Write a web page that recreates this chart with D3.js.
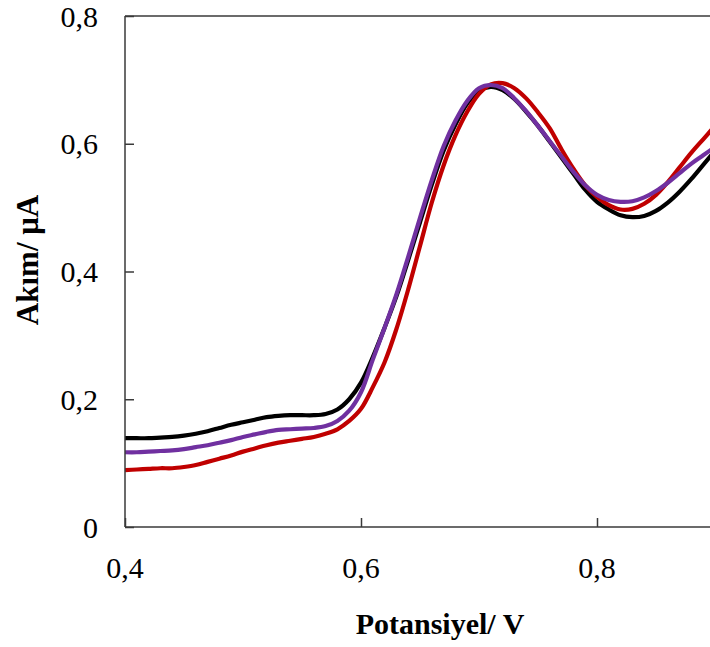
<!DOCTYPE html>
<html>
<head>
<meta charset="utf-8">
<script src="https://cdn.jsdelivr.net/npm/d3@7"></script>
<style>
  html, body { margin: 0; padding: 0; background: #fff; }
  svg { display: block; }
</style>
</head>
<body>
<svg id="chart" width="710" height="647"></svg>
<script>
// Potential (V)
const potentials = [0.40,0.41,0.42,0.43,0.44,0.45,0.46,0.47,0.48,0.49,
  0.50,0.51,0.52,0.53,0.54,0.55,0.56,0.57,0.58,0.59,
  0.60,0.61,0.62,0.63,0.64,0.65,0.66,0.67,0.68,0.69,
  0.70,0.71,0.72,0.73,0.74,0.75,0.76,0.77,0.78,0.79,
  0.80,0.81,0.82,0.83,0.84,0.85,0.86,0.87,0.88,0.89,0.90];

// Current (µA) – black series
const blackSeries = [0.139,0.139,0.139,0.140,0.141,0.143,0.146,0.150,0.155,0.160,
  0.164,0.168,0.172,0.174,0.175,0.175,0.175,0.177,0.184,0.200,
  0.226,0.266,0.312,0.361,0.418,0.477,0.536,0.589,0.630,0.663,
  0.683,0.689,0.684,0.670,0.650,0.628,0.603,0.578,0.553,0.528,
  0.509,0.497,0.488,0.485,0.487,0.495,0.508,0.525,0.545,0.567,0.589];

// Current (µA) – red series
const redSeries = [0.089,0.090,0.091,0.092,0.092,0.094,0.097,0.102,0.107,0.112,
  0.118,0.123,0.128,0.132,0.135,0.138,0.141,0.146,0.153,0.166,
  0.185,0.219,0.258,0.310,0.372,0.440,0.508,0.566,0.613,0.650,
  0.678,0.693,0.695,0.687,0.671,0.649,0.624,0.591,0.561,0.535,
  0.517,0.504,0.497,0.498,0.506,0.520,0.540,0.563,0.586,0.607,0.628];

// Current (µA) – purple series
const purpleSeries = [0.117,0.117,0.118,0.119,0.120,0.122,0.125,0.128,0.132,0.136,
  0.141,0.145,0.149,0.152,0.153,0.154,0.155,0.158,0.166,0.182,
  0.211,0.262,0.312,0.364,0.423,0.484,0.543,0.596,0.636,0.667,
  0.687,0.692,0.687,0.671,0.651,0.628,0.604,0.580,0.556,0.535,
  0.520,0.512,0.509,0.510,0.516,0.526,0.539,0.554,0.569,0.582,0.595];

const xTicks = [0.4, 0.6, 0.8];
const yTicks = [0, 0.2, 0.4, 0.6, 0.8];
const xTitle = "Potansiyel/ V";
const yTitle = "Akım/ μA";

const series = [
  { name: "black", values: blackSeries, color: "#000000" },
  { name: "red", values: redSeries, color: "#C00000" },
  { name: "purple", values: purpleSeries, color: "#7030A0" }
];

const svg = d3.select("#chart");
const plotLeft = 125, plotTop = 16, plotBottom = 527;
const x = d3.scaleLinear().domain([0.4, 1.0]).range([plotLeft, plotLeft + 708]);
const y = d3.scaleLinear().domain([0, 0.8]).range([plotBottom, plotTop]);

const fmt = d => d === 0 ? "0" : d3.format(".1f")(d).replace(".", ",");
const font = "'Liberation Serif', 'Times New Roman', serif";

svg.append("clipPath").attr("id", "clip")
  .append("rect").attr("x", plotLeft).attr("y", plotTop)
  .attr("width", 710 - plotLeft).attr("height", plotBottom - plotTop);

// series lines
const line = d3.line()
  .x((d, i) => x(potentials[i]))
  .y(d => y(d))
  .curve(d3.curveCatmullRom);

const g = svg.append("g").attr("clip-path", "url(#clip)");
series.forEach(s => {
  g.append("path")
    .datum(s.values)
    .attr("d", line)
    .attr("fill", "none")
    .attr("stroke", s.color)
    .attr("stroke-width", 4.2)
    .attr("stroke-linejoin", "round");
});

// axes
const axisColor = "#3a3a3a";
const xAxis = svg.append("g").attr("transform", `translate(0,${plotBottom})`)
  .call(d3.axisTop(x).tickValues(xTicks).tickSize(9).tickFormat(""));
const yAxis = svg.append("g").attr("transform", `translate(${plotLeft},0)`)
  .call(d3.axisRight(y).tickValues(yTicks).tickSize(9).tickFormat(""));
[xAxis, yAxis].forEach(a => {
  a.select(".domain").remove();
  a.selectAll("line").attr("stroke", axisColor).attr("stroke-width", 1.5);
});

// plot frame: left, bottom, top
svg.append("line").attr("x1", plotLeft).attr("x2", 710).attr("y1", plotBottom).attr("y2", plotBottom)
  .attr("stroke", axisColor).attr("stroke-width", 1.5);
svg.append("line").attr("x1", plotLeft).attr("x2", plotLeft).attr("y1", plotTop).attr("y2", plotBottom)
  .attr("stroke", axisColor).attr("stroke-width", 1.5);
svg.append("line").attr("x1", plotLeft).attr("x2", 710).attr("y1", plotTop).attr("y2", plotTop)
  .attr("stroke", axisColor).attr("stroke-width", 1.5);

// tick labels
svg.append("g").selectAll("text").data(yTicks).join("text")
  .attr("x", 98).attr("y", d => y(d)).attr("dy", "0.35em")
  .attr("text-anchor", "end")
  .attr("font-family", font).attr("font-size", 30)
  .text(fmt);

svg.append("g").selectAll("text").data(xTicks).join("text")
  .attr("x", d => x(d)).attr("y", 578)
  .attr("text-anchor", "middle")
  .attr("font-family", font).attr("font-size", 30)
  .text(fmt);

// titles
svg.append("text")
  .attr("x", 440).attr("y", 634)
  .attr("text-anchor", "middle")
  .attr("font-family", font).attr("font-size", 30).attr("font-weight", "bold")
  .text(xTitle);

svg.append("text")
  .attr("transform", "translate(38,260) rotate(-90)")
  .attr("text-anchor", "middle")
  .attr("font-family", font).attr("font-size", 31).attr("font-weight", "bold")
  .text(yTitle);
</script>
</body>
</html>
